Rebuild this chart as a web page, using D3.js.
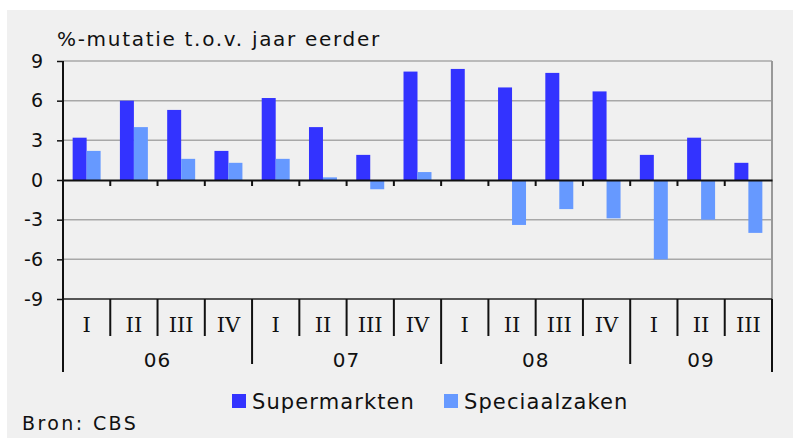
<!DOCTYPE html>
<html>
<head>
<meta charset="utf-8">
<script src="https://cdn.jsdelivr.net/npm/d3@7"></script>
<style>
  body { margin: 0; background: #fff; }
  text { font-family: "DejaVu Sans", Verdana, sans-serif; fill: #111; }
  .roman { font-family: "DejaVu Serif", serif; }
</style>
</head>
<body>
<div id="chartContainer"></div>
<script>
// quarters per year
var years = ["06", "07", "08", "09"];
var quarters = [
  ["I", "II", "III", "IV"],
  ["I", "II", "III", "IV"],
  ["I", "II", "III", "IV"],
  ["I", "II", "III"]
];
var seriesNames = ["Supermarkten", "Speciaalzaken"];
var supermarkten = [3.2, 6.0, 5.3, 2.2, 6.2, 4.0, 1.9, 8.2, 8.4, 7.0, 8.1, 6.7, 1.9, 3.2, 1.3];
var speciaalzaken = [2.2, 4.0, 1.6, 1.3, 1.6, 0.2, -0.7, 0.6, 0, -3.4, -2.2, -2.9, -6.0, -3.0, -4.0];
var yTicks = [9, 6, 3, 0, -3, -6, -9];

var width = 793;
var height = 441;
var plot = {left: 63, right: 772, top: 61, bottom: 299};
var colors = ["#3333ff", "#6699ff"];

var svg = d3.select('#chartContainer')
    .append('svg')
    .attr("width", width)
    .attr("height", height);

// grey panel
svg.append('rect')
    .attr('x', 7).attr('y', 10)
    .attr('width', width - 7).attr('height', 428)
    .attr('fill', '#f0f0f0');

// build category list from years and quarters
var cats = [];
years.forEach(function(y, i) {
  quarters[i].forEach(function(q) { cats.push(y + "-" + q); });
});

var xScale = d3.scaleBand().domain(cats).range([plot.left, plot.right]).padding(0);
var xInner = d3.scaleBand().domain(seriesNames).range([0, xScale.bandwidth()]).paddingOuter(0.69).paddingInner(0);
var yScale = d3.scaleLinear().domain([-9, 9]).range([plot.bottom, plot.top]);

// gridlines
svg.append('g').selectAll('line')
    .data(yTicks.filter(function(d) { return d != 0 && d != -9; }))
    .enter().append('line')
    .attr('x1', plot.left).attr('x2', plot.right)
    .attr('y1', function(d) { return yScale(d); })
    .attr('y2', function(d) { return yScale(d); })
    .attr('stroke', '#a8a8a8')
    .attr('stroke-width', 1.5);

// right border
svg.append('line')
    .attr('x1', plot.right).attr('x2', plot.right)
    .attr('y1', plot.top).attr('y2', plot.bottom)
    .attr('stroke', '#999').attr('stroke-width', 2);

// bars
var rows = cats.map(function(c, i) {
  return {cat: c, values: [supermarkten[i], speciaalzaken[i]]};
});
var groups = svg.append('g').selectAll('g')
    .data(rows)
    .enter().append('g')
    .attr('transform', function(d) { return "translate(" + xScale(d.cat) + ",0)"; });
groups.selectAll('rect')
    .data(function(d) { return d.values.map(function(v, j) { return {name: seriesNames[j], v: v, j: j}; }); })
    .enter().append('rect')
    .attr('x', function(d) { return xInner(d.name); })
    .attr('width', xInner.bandwidth())
    .attr('y', function(d) { return yScale(Math.max(0, d.v)); })
    .attr('height', function(d) { return Math.abs(yScale(d.v) - yScale(0)); })
    .attr('fill', function(d) { return colors[d.j]; });

// bottom line at -9
svg.append('line')
    .attr('x1', plot.left).attr('x2', plot.right)
    .attr('y1', plot.bottom).attr('y2', plot.bottom)
    .attr('stroke', '#222').attr('stroke-width', 1.5);

// zero axis with small ticks
var zeroAxis = d3.axisBottom(xScale).tickSize(0).tickFormat("");
var zeroG = svg.append('g').attr('transform', "translate(0," + yScale(0) + ")");
zeroAxis(zeroG);
zeroG.select('.domain').attr('stroke', '#111').attr('stroke-width', 2);
zeroG.selectAll('.bound').data(cats.slice(1))
    .enter().append('line')
    .attr('x1', function(d) { return xScale(d); })
    .attr('x2', function(d) { return xScale(d); })
    .attr('y1', 0).attr('y2', 6)
    .attr('stroke', '#111').attr('stroke-width', 2);

// y axis, plain hyphen for negatives
var yAxisGroup = svg.append('g').attr("transform", "translate(" + plot.left + ",0)");
var yAxis = d3.axisLeft(yScale).tickValues(yTicks).tickSize(6).tickPadding(14).tickSizeOuter(0)
    .tickFormat(function(d) { return String(d); });
yAxis(yAxisGroup);
yAxisGroup.select('.domain').remove();
yAxisGroup.selectAll('line').attr('stroke', '#111').attr('stroke-width', 1.5);
yAxisGroup.selectAll('text').style('font-size', '19px').attr('fill', '#111');
yAxisGroup.append('line')
    .attr('x1', 0).attr('x2', 0)
    .attr('y1', plot.top).attr('y2', 372)
    .attr('stroke', '#111').attr('stroke-width', 2);

// quarter labels and separators
var catAxis = svg.append('g');
catAxis.selectAll('text.q').data(cats)
    .enter().append('text')
    .attr('class', 'roman')
    .attr('x', function(d) { return xScale(d) + xScale.bandwidth() / 2; })
    .attr('y', 332)
    .attr('text-anchor', 'middle')
    .style('font-size', '21px')
    .text(function(d) { return d.split("-")[1]; });

var yearStart = [];
var n = 0;
years.forEach(function(y, i) { yearStart.push(n); n += quarters[i].length; });

catAxis.selectAll('line.sep').data(cats.slice(1))
    .enter().append('line')
    .attr('x1', function(d) { return xScale(d); })
    .attr('x2', function(d) { return xScale(d); })
    .attr('y1', plot.bottom)
    .attr('y2', function(d, i) { return yearStart.indexOf(i + 1) >= 0 ? 364 : 336; })
    .attr('stroke', '#111').attr('stroke-width', 2);

catAxis.append('line')
    .attr('x1', plot.right).attr('x2', plot.right)
    .attr('y1', plot.bottom).attr('y2', 372)
    .attr('stroke', '#111').attr('stroke-width', 2);

// year labels
catAxis.selectAll('text.yr').data(years)
    .enter().append('text')
    .attr('x', function(d, i) {
      var a = xScale(cats[yearStart[i]]);
      var b = xScale(cats[yearStart[i] + quarters[i].length - 1]) + xScale.bandwidth();
      return (a + b) / 2;
    })
    .attr('y', 367)
    .attr('text-anchor', 'middle')
    .style('font-size', '20px')
    .style('letter-spacing', '1px')
    .text(function(d) { return d; });

// title
svg.append('text')
    .attr('x', 57).attr('y', 46)
    .style('font-size', '20px')
    .style('letter-spacing', '1.7px')
    .text("%-mutatie t.o.v. jaar eerder");

// legend
var legendX = [232, 444];
var legend = svg.append('g').selectAll('g')
    .data(seriesNames)
    .enter().append('g')
    .attr('transform', function(d, i) { return "translate(" + legendX[i] + ",394)"; });
legend.append('rect')
    .attr('width', 14).attr('height', 14)
    .attr('fill', function(d, i) { return colors[i]; });
legend.append('text')
    .attr('x', 20).attr('y', 15)
    .style('font-size', '21px')
    .style('letter-spacing', '1.1px')
    .text(function(d) { return d; });

// source
svg.append('text')
    .attr('x', 22).attr('y', 430)
    .style('font-size', '19px')
    .style('letter-spacing', '2.4px')
    .text("Bron: CBS");
</script>
</body>
</html>
